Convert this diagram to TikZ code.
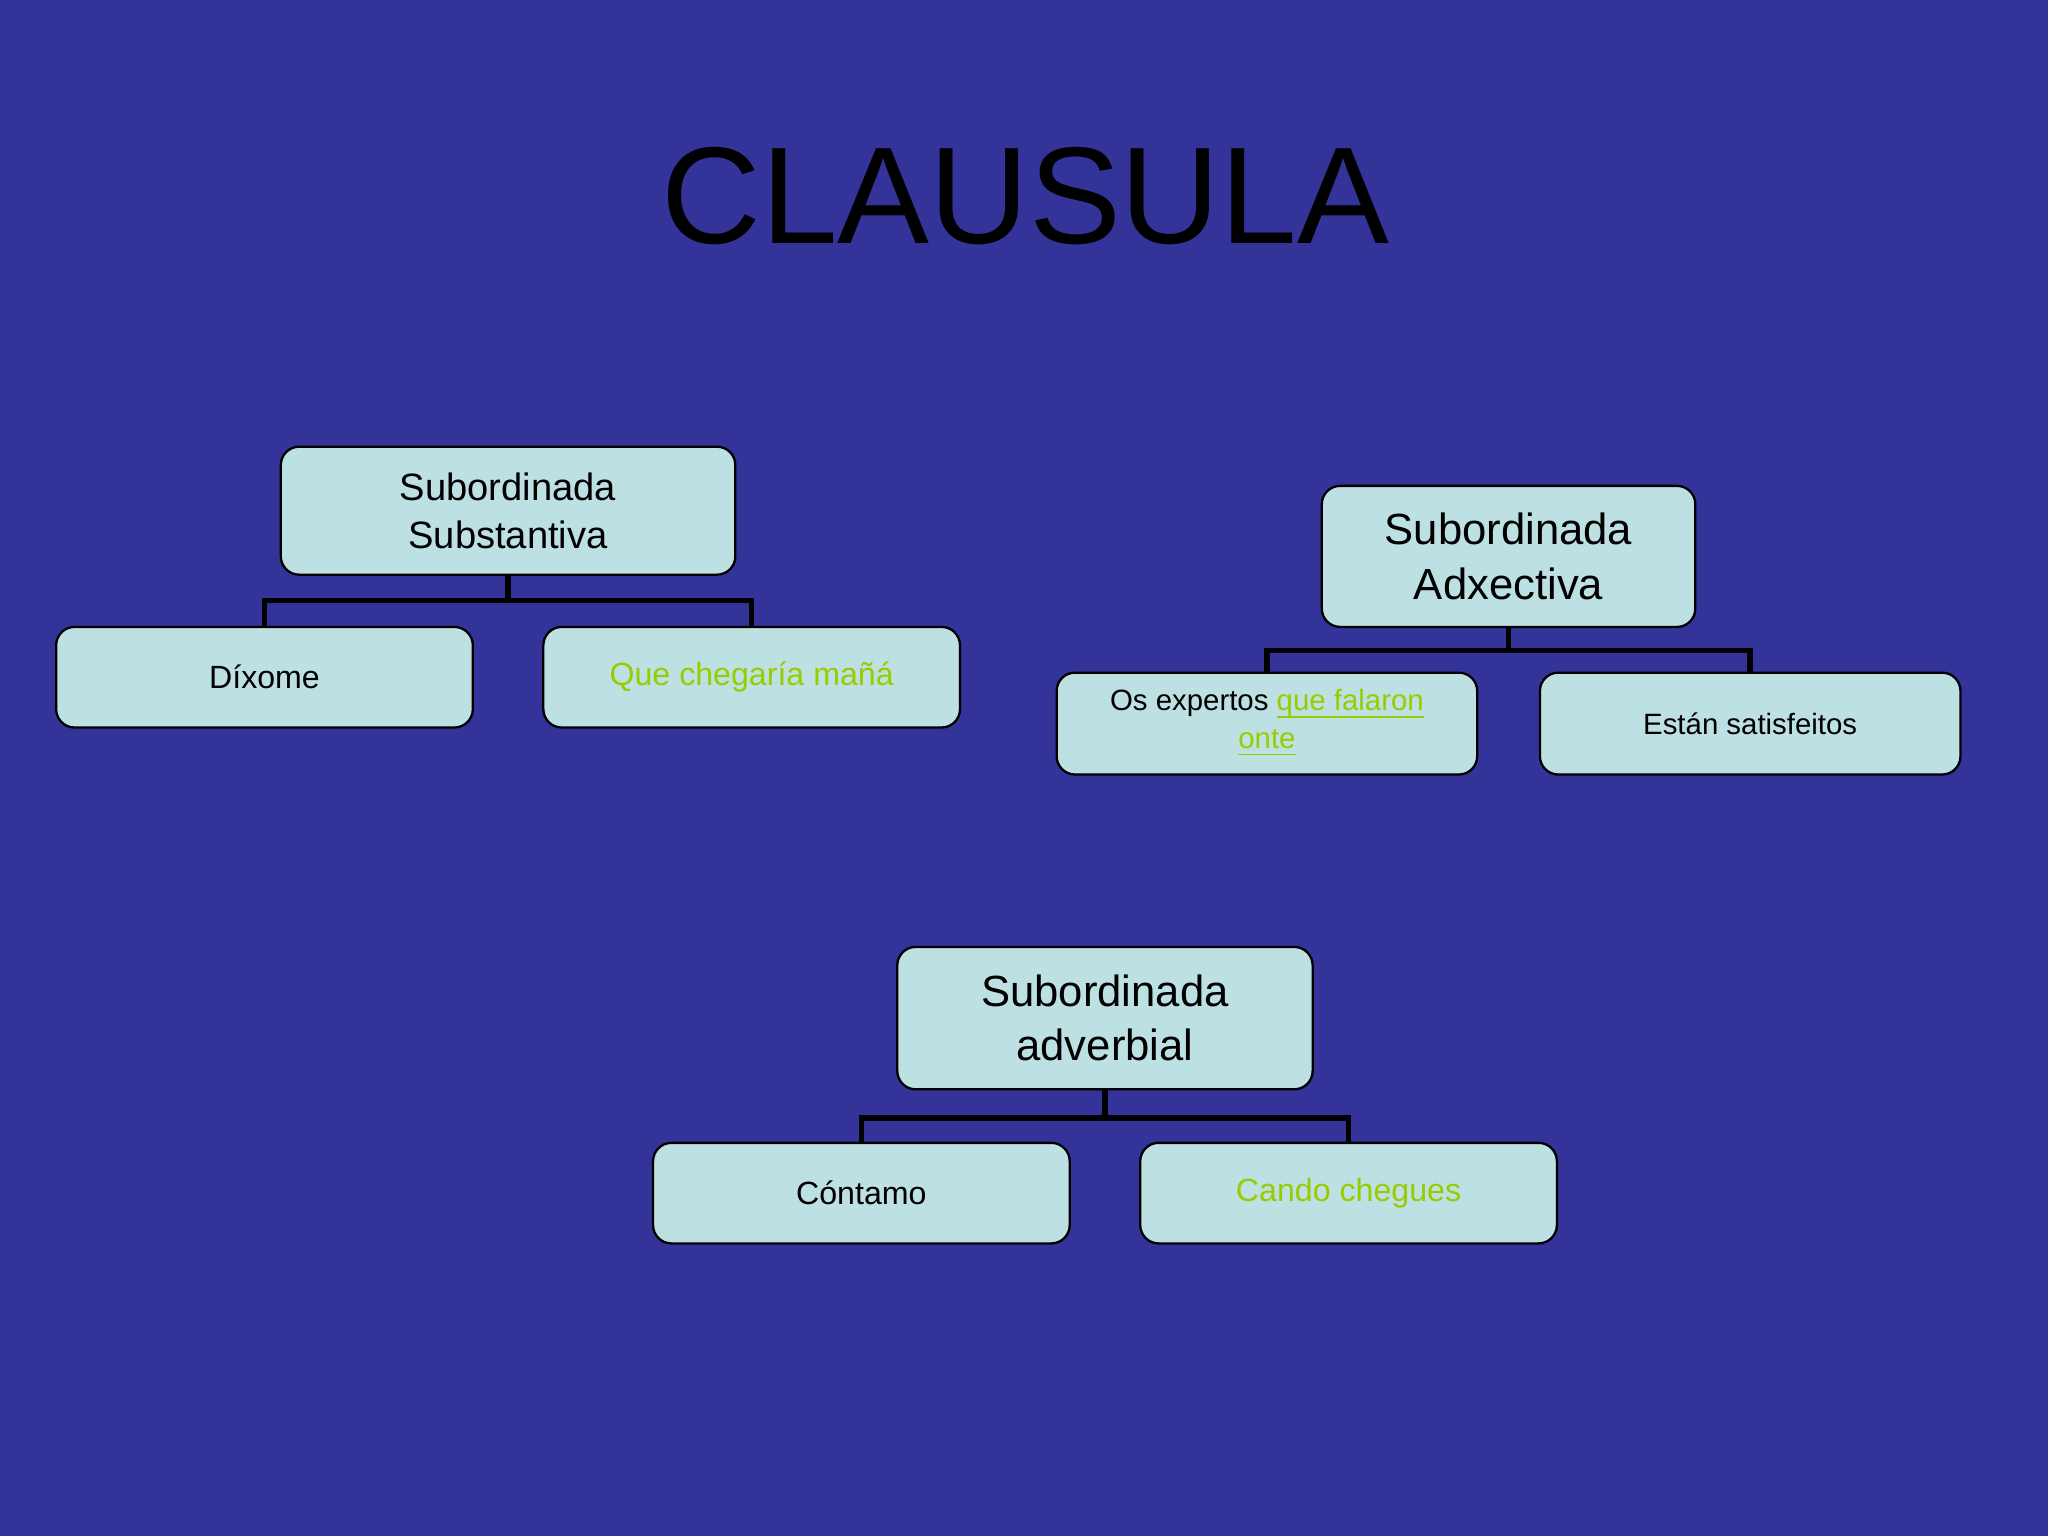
\documentclass[tikz,border=0pt]{standalone}
\usepackage{fontspec}
\setmainfont{Liberation Sans}
\newcommand{\myul}[1]{\underline{\smash{#1}}}
\definecolor{bg}{HTML}{343399}
\definecolor{bx}{HTML}{BDE0E3}
\definecolor{gr}{HTML}{99CC00}
\begin{document}
\begin{tikzpicture}[x=0.01cm,y=-0.01cm,
 box/.style={draw=black,fill=bx,rounded corners=4pt,line width=0.5pt,align=center,inner sep=0pt},
 con/.style={line width=1.2pt}]
\fill[bg] (0,0) rectangle (1568,1176);
\useasboundingbox (0,0) rectangle (1568,1176);
\node (t) at (785,150) {\fontsize{30}{36}\selectfont CLAUSULA};
% A
\node[box,minimum width=348*0.01cm,minimum height=98*0.01cm,font=\fontsize{8.3}{10.5}\selectfont] (a) at (389,391) {Subordinada\\Substantiva};
\node[box,minimum width=319*0.01cm,minimum height=77*0.01cm,font=\fontsize{7}{9}\selectfont] (a1) at (202.5,518.5) {Díxome};
\node[box,minimum width=319*0.01cm,minimum height=77*0.01cm,font=\fontsize{7}{9}\selectfont,text=gr] (a2) at (575.5,518.5) {Que chegaría mañá};
\draw[con] (a.south) -- ++(0,19) -| (a1.north);
\draw[con] (a.south) ++(0,19) -| (a2.north);
% B
\node[box,minimum width=286*0.01cm,minimum height=108*0.01cm,font=\fontsize{9.5}{11.8}\selectfont] (b) at (1155,426) {Subordinada\\Adxectiva};
\node[box,minimum width=322*0.01cm,minimum height=78*0.01cm,font=\fontsize{6.4}{8.2}\selectfont] (b1) at (970,554) {Os expertos \textcolor{gr}{\myul{que falaron}}\\\textcolor{gr}{\myul{onte}}};
\node[box,minimum width=322*0.01cm,minimum height=78*0.01cm,font=\fontsize{6.4}{8.2}\selectfont] (b2) at (1340,554) {Están satisfeitos};
\draw[con] (b.south) -- ++(0,17) -| (b1.north);
\draw[con] (b.south) ++(0,17) -| (b2.north);
% C
\node[box,minimum width=318*0.01cm,minimum height=109*0.01cm,font=\fontsize{9.5}{11.8}\selectfont] (c) at (846,779.5) {Subordinada\\adverbial};
\node[box,minimum width=319*0.01cm,minimum height=77*0.01cm,font=\fontsize{7}{9}\selectfont] (c1) at (659.5,913.5) {Cóntamo};
\node[box,minimum width=319*0.01cm,minimum height=77*0.01cm,font=\fontsize{7}{9}\selectfont,text=gr] (c2) at (1032.5,913.5) {Cando chegues};
\draw[con] (c.south) -- ++(0,21) -| (c1.north);
\draw[con] (c.south) ++(0,21) -| (c2.north);
\end{tikzpicture}
\end{document}
